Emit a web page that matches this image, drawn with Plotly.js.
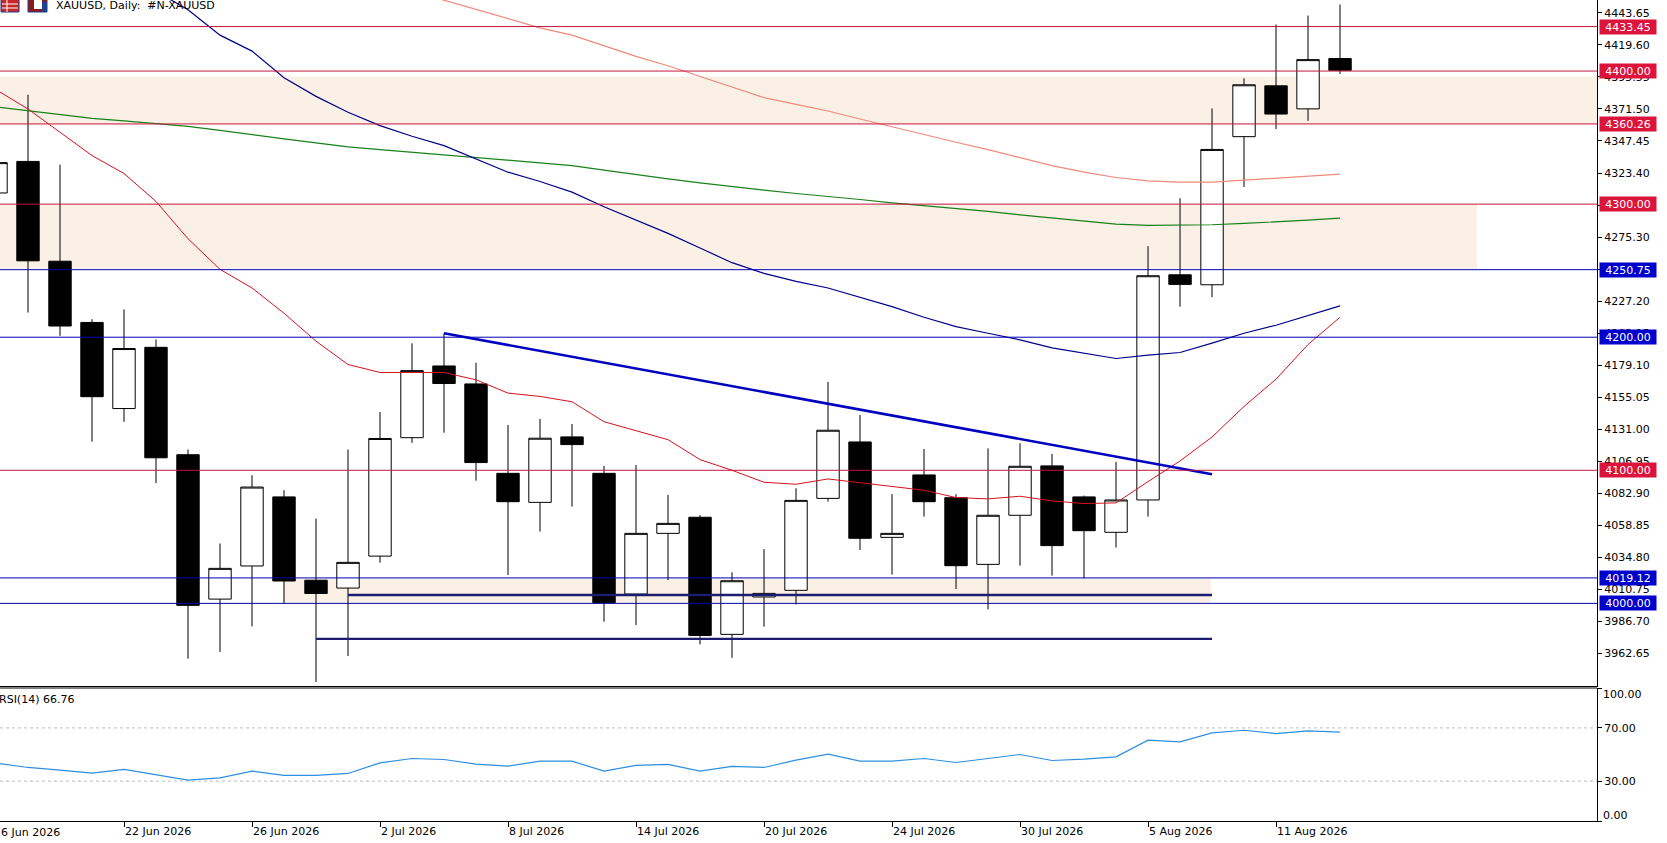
<!DOCTYPE html>
<html>
<head>
<meta charset="utf-8">
<script src="https://cdn.plot.ly/plotly-3.0.1.min.js"></script>
<style>
html,body{margin:0;padding:0;background:#fff;}
#chart{width:1667px;height:843px;}
</style>
</head>
<body>
<div id="chart"></div>
<script>
// ---------- DATA ----------
const dates = ['16 Jun 2026','17 Jun 2026','18 Jun 2026','19 Jun 2026','22 Jun 2026','23 Jun 2026','24 Jun 2026','25 Jun 2026','26 Jun 2026','29 Jun 2026','30 Jun 2026','1 Jul 2026','2 Jul 2026','3 Jul 2026','6 Jul 2026','7 Jul 2026','8 Jul 2026','9 Jul 2026','10 Jul 2026','13 Jul 2026','14 Jul 2026','15 Jul 2026','16 Jul 2026','17 Jul 2026','20 Jul 2026','21 Jul 2026','22 Jul 2026','23 Jul 2026','24 Jul 2026','27 Jul 2026','28 Jul 2026','29 Jul 2026','30 Jul 2026','31 Jul 2026','3 Aug 2026','4 Aug 2026','5 Aug 2026','6 Aug 2026','7 Aug 2026','10 Aug 2026','11 Aug 2026','12 Aug 2026','13 Aug 2026'];

const openP  = [4308.4,4332.1,4257.1,4211.1,4146.4,4192.4,4111.7,4003.2,4028.1,4080.0,4017.4,4011.5,4035.5,4124.5,4178.4,4164.9,4097.7,4075.9,4125.1,4097.7,4007.0,4052.6,4064.7,3976.7,4004.8,4009.8,4078.9,4121.3,4049.6,4096.5,4079.4,4029.3,4066.2,4103.3,4080.0,4053.4,4077.7,4246.9,4239.4,4350.7,4388.9,4371.6,4409.4];
const highP  = [4345.0,4382.2,4329.7,4213.5,4220.9,4198.3,4115.6,4045.0,4096.3,4085.0,4063.7,4115.6,4143.8,4195.4,4203.0,4180.7,4134.1,4138.6,4134.8,4103.3,4104.0,4081.5,4066.4,4023.3,4040.8,4086.5,4166.4,4141.6,4082.2,4116.0,4082.0,4116.5,4120.3,4112.3,4081.0,4106.3,4268.4,4304.4,4371.9,4394.6,4435.0,4441.7,4450.0];
const lowP   = [4298.0,4218.5,4201.0,4121.5,4136.4,4090.4,3958.4,3963.5,3982.7,4000.2,3940.9,3960.5,4030.5,4120.6,4128.3,4092.2,4021.3,4053.9,4072.7,3986.2,3983.7,4017.5,3969.2,3959.1,3982.5,3999.2,4076.4,4040.1,4021.6,4065.2,4010.8,3995.5,4028.3,4020.8,4018.8,4041.9,4065.2,4222.9,4230.1,4312.9,4356.4,4362.6,4397.8];
const closeP = [4331.2,4257.4,4208.4,4155.3,4191.5,4109.4,3998.5,4026.3,4087.4,4016.8,4007.4,4030.8,4123.9,4174.9,4165.2,4105.8,4076.4,4124.1,4119.3,4000.5,4052.6,4060.1,3975.9,4017.0,4007.5,4077.4,4130.1,4048.9,4052.6,4076.4,4028.3,4066.2,4103.0,4043.4,4054.6,4077.7,4246.2,4239.7,4341.1,4389.7,4367.7,4408.6,4400.6];

// moving averages
const maRed    = [4386,4371.5,4354,4336.5,4323,4302,4274,4251,4237,4218,4197,4179.5,4173.5,4173.5,4173.5,4168,4158,4155.5,4151.5,4136.5,4130,4123,4108,4100,4091,4089.5,4093.5,4090.5,4088,4085,4079.5,4078.5,4080.5,4077,4075,4075.5,4091.5,4107,4125,4148,4168.5,4194.5,4215];
const maBlue   = [null,null,null,4490,4475,4460,4446,4427,4415,4395,4381,4369,4359,4351,4344,4334,4324,4317,4309,4298,4288,4278,4267,4256,4248,4242,4237,4230,4223,4215,4208,4203,4198,4192,4188,4184,4186.5,4188.5,4195.5,4203,4209,4216.5,4223.5];
const maSalmon = [null,null,null,null,null,null,null,null,null,null,null,4474,4467,4460,4453,4446,4439,4432.5,4427,4419,4411,4404,4396,4388,4380,4375,4370,4364,4358,4352,4346.5,4341,4335,4329,4324,4320,4317.5,4316.5,4316.5,4318,4319.5,4321,4322.5];
const maGreen  = [4373,4370,4367,4364.5,4362.5,4360.5,4358.5,4355.5,4352,4349,4346,4343,4341,4339,4337,4335,4333,4331,4329,4325.5,4322,4319,4316,4313,4310.5,4308,4306,4303.5,4301,4299,4297,4294.5,4292,4289.5,4287,4285,4284,4284,4284.5,4285.5,4286.5,4288,4289.5];

const rsi = [43.5,40.25,38.25,36,38.75,35,30.75,32.5,37.5,34.25,34.25,35.75,43.75,47,46.25,42.75,41.25,45,45,37.5,41.75,42.5,37.5,41,40.25,45.75,50.25,45,45,47,44,47,50,45.5,46.5,48.25,60.75,59.5,66.25,68.25,65.75,67.75,66.76];
const rsiLast = '66.76';

// drawn objects
const trendDates  = ['6 Jul 2026','7 Aug 2026'];
const trendPrices = [4203.0, 4097.0];
const supUpDates  = ['1 Jul 2026','7 Aug 2026'];
const supUpPrices = [4006.3, 4006.3];
const supLoDates  = ['30 Jun 2026','7 Aug 2026'];
const supLoPrices = [3973.3, 3973.3];

const levels     = [4433.45, 4400.00, 4360.26, 4300.00, 4250.75, 4200.00, 4100.00, 4019.12, 4000.00];
const levelKinds = ['red','red','red','red','blue','blue','red','blue','blue'];

const zoneLow  = [4360.26, 4251.5, 4000.5];
const zoneHigh = [4396.0, 4300.0, 4018.5];
const zoneFromIdx = [-1, -1, 8.97];
const zoneToIdx   = [51, 46.28, 37.97];

const priceTicks = [4443.65,4419.60,4395.55,4371.50,4347.45,4323.40,4299.35,4275.30,4251.25,4227.20,4203.15,4179.10,4155.05,4131.00,4106.95,4082.90,4058.85,4034.80,4010.75,3986.70,3962.65];
const rsiTicks = [100, 70, 30, 0];
const xTickLabels = dates.filter((d, i) => i % 4 === 0);

// ---------- LAYOUT HELPERS ----------
const W = 1667, H = 843, PW = 1597, PH = 821;
const px = x => x / PW;
const py = y => 1 - y / PH;
const FONT = 'DejaVu Sans';
const RED = '#DC143C', BLUE = '#0000CD';
const lineCol = {red: '#C8143C', blue: '#0000B4'};
const labelCol = {red: RED, blue: BLUE};

const traces = [
  {type:'candlestick', x: dates, open: openP, high: highP, low: lowP, close: closeP,
   xaxis:'x', yaxis:'y', whiskerwidth:0,
   increasing:{line:{color:'#000000', width:1}, fillcolor:'#FFFFFF'},
   decreasing:{line:{color:'#000000', width:1}, fillcolor:'#000000'},
   hoverinfo:'skip', showlegend:false},
  {type:'scatter', mode:'lines', x: dates, y: maGreen, line:{color:'#1A801A', width:1.2}, xaxis:'x', yaxis:'y', hoverinfo:'skip', showlegend:false},
  {type:'scatter', mode:'lines', x: dates, y: maSalmon, line:{color:'#F08A7A', width:1.2}, xaxis:'x', yaxis:'y', hoverinfo:'skip', showlegend:false},
  {type:'scatter', mode:'lines', x: dates, y: maBlue, line:{color:'#00008B', width:1.2}, xaxis:'x', yaxis:'y', hoverinfo:'skip', showlegend:false},
  {type:'scatter', mode:'lines', x: dates, y: maRed, line:{color:'#D8101C', width:1}, xaxis:'x', yaxis:'y', hoverinfo:'skip', showlegend:false},
  {type:'scatter', mode:'lines', x: trendDates, y: trendPrices, line:{color:'#0000C0', width:2.6}, xaxis:'x', yaxis:'y', hoverinfo:'skip', showlegend:false},
  {type:'scatter', mode:'lines', x: supUpDates, y: supUpPrices, line:{color:'#1C1C70', width:2.4}, xaxis:'x', yaxis:'y', hoverinfo:'skip', showlegend:false},
  {type:'scatter', mode:'lines', x: supLoDates, y: supLoPrices, line:{color:'#1C1C70', width:2.4}, xaxis:'x', yaxis:'y', hoverinfo:'skip', showlegend:false},
  {type:'scatter', mode:'lines', x: dates, y: rsi, line:{color:'#2E8FE0', width:1.2}, xaxis:'x2', yaxis:'y2', hoverinfo:'skip', showlegend:false}
];

const shapes = [];
for (let i = 0; i < zoneLow.length; i++) {
  shapes.push({type:'rect', xref:'x', yref:'y', x0: zoneFromIdx[i], x1: zoneToIdx[i], y0: zoneLow[i], y1: zoneHigh[i],
    fillcolor:'#FAF0E6', line:{width:0}, layer:'below'});
}
levels.forEach((lv, i) => {
  shapes.push({type:'line', xref:'paper', yref:'y', x0:0, x1:1, y0:lv, y1:lv,
    line:{color: lineCol[levelKinds[i]], width:1}, layer:'above'});
});
// RSI level lines
[70, 30].forEach(v => shapes.push({type:'line', xref:'paper', yref:'y2', x0:0, x1:1, y0:v, y1:v,
  line:{color:'#BDBDBD', width:1, dash:'3px,3px'}, layer:'below'}));
// RSI panel top border
shapes.push({type:'line', xref:'paper', yref:'paper', x0:0, x1:1, y0:py(688), y1:py(688), line:{color:'#000', width:1}});
// little terminal icons at top-left
shapes.push({type:'rect', xref:'paper', yref:'paper', x0:px(1), x1:px(19), y0:py(12), y1:py(-2), fillcolor:'#C62828', line:{color:'#1F3F8F', width:1}});
shapes.push({type:'line', xref:'paper', yref:'paper', x0:px(2), x1:px(18), y0:py(4), y1:py(4), line:{color:'#FFFFFF', width:1}});
shapes.push({type:'line', xref:'paper', yref:'paper', x0:px(2), x1:px(18), y0:py(8), y1:py(8), line:{color:'#FFFFFF', width:1}});
shapes.push({type:'line', xref:'paper', yref:'paper', x0:px(7), x1:px(7), y0:py(0), y1:py(12), line:{color:'#FFFFFF', width:1}});
shapes.push({type:'rect', xref:'paper', yref:'paper', x0:px(28), x1:px(47), y0:py(12), y1:py(-2), fillcolor:'#8B1A1A', line:{color:'#1F3F8F', width:1}});
shapes.push({type:'rect', xref:'paper', yref:'paper', x0:px(34), x1:px(42), y0:py(9), y1:py(-2), fillcolor:'#FFFFFF', line:{width:0}});
shapes.push({type:'rect', xref:'paper', yref:'paper', x0:px(42), x1:px(47), y0:py(12), y1:py(2), fillcolor:'#1F3F8F', line:{width:0}});

const annotations = [];
levels.forEach((lv, i) => {
  annotations.push({xref:'paper', yref:'y', x:1, y:lv, xanchor:'left', yanchor:'middle', xshift:2,
    text: lv.toFixed(2), showarrow:false, bgcolor: labelCol[levelKinds[i]], borderpad:1,
    width:54, height:12, align:'center', font:{family:FONT, size:11, color:'#FFFFFF'}});
});
annotations.push({xref:'paper', yref:'paper', x:px(54), y:py(6), xanchor:'left', yanchor:'middle',
  text:'XAUUSD, Daily:\u00a0 #N-XAUUSD', showarrow:false, font:{family:FONT, size:11, color:'#000'}});
annotations.push({xref:'paper', yref:'paper', x:0, y:py(699), xanchor:'left', yanchor:'middle', xshift:-3,
  text:'RSI(14) ' + rsiLast, showarrow:false, font:{family:FONT, size:11, color:'#000'}});
annotations.push({xref:'paper', yref:'y2', x:1, y:100, xanchor:'left', yanchor:'middle', xshift:4, yshift:-6,
  text:'100.00', showarrow:false, font:{family:FONT, size:11, color:'#000'}});
annotations.push({xref:'paper', yref:'y2', x:1, y:0, xanchor:'left', yanchor:'middle', xshift:4, yshift:6,
  text:'0.00', showarrow:false, font:{family:FONT, size:11, color:'#000'}});
annotations.push({xref:'paper', yref:'paper', x:0, y:py(833), xanchor:'left', yanchor:'middle', xshift:-8,
  text: xTickLabels[0], showarrow:false, font:{family:FONT, size:11, color:'#000'}});

const xRange = [0.125, 50.03];

const layout = {
  width: W, height: H,
  margin: {l:0, r:70, t:0, b:22, pad:0},
  paper_bgcolor:'#FFFFFF', plot_bgcolor:'#FFFFFF',
  showlegend:false,
  font:{family:FONT, size:11, color:'#000'},
  boxgap:0.3, boxgroupgap:0,
  xaxis:{type:'category', categoryorder:'array', categoryarray: dates, range: xRange,
    anchor:'y', showline:true, linecolor:'#000', linewidth:1, ticks:'', showticklabels:false,
    showgrid:false, zeroline:false, rangeslider:{visible:false}, fixedrange:true},
  xaxis2:{type:'category', categoryorder:'array', categoryarray: dates, range: xRange, matches:'x',
    anchor:'y2', showline:true, linecolor:'#000', linewidth:1, ticks:'outside', ticklen:5, tickcolor:'#000',
    tickvals: xTickLabels.slice(1), ticktext: xTickLabels.slice(1), ticklabelposition:'outside right',
    tickfont:{family:FONT, size:11, color:'#000'}, showgrid:false, zeroline:false, fixedrange:true},
  yaxis:{domain:[1 - 686/PH, 1], range:[3937.9, 4453.4], side:'right', anchor:'x',
    showline:true, linecolor:'#000', linewidth:1, ticks:'outside', ticklen:4, tickcolor:'#000',
    tickvals: priceTicks, ticktext: priceTicks.map(v => v.toFixed(2)),
    tickfont:{family:FONT, size:11, color:'#000'}, showgrid:false, zeroline:false, fixedrange:true},
  yaxis2:{domain:[0, 133/PH], range:[0, 100], side:'right', anchor:'x2',
    showline:true, linecolor:'#000', linewidth:1, ticks:'outside', ticklen:4, tickcolor:'#000',
    tickvals: rsiTicks, ticktext: rsiTicks.map(v => (v === 100 || v === 0) ? '' : v.toFixed(2)),
    tickfont:{family:FONT, size:11, color:'#000'}, showgrid:false, zeroline:false, fixedrange:true},
  shapes: shapes,
  annotations: annotations
};

Plotly.newPlot('chart', traces, layout, {staticPlot:true, displayModeBar:false});
</script>
</body>
</html>
